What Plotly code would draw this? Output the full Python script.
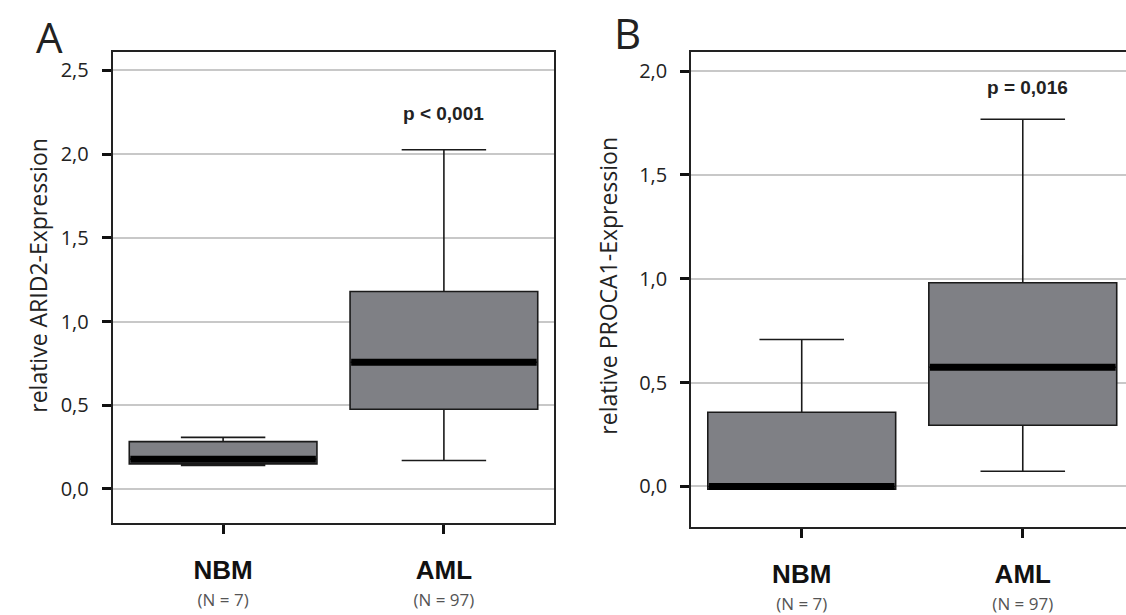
import plotly.graph_objects as go

# ---- data ----
categories = ["NBM", "AML"]
n_labels = ["(N = 7)", "(N = 97)"]

# Panel A: ARID2
arid2_lower = [0.140, 0.170]
arid2_q1 = [0.150, 0.476]
arid2_median = [0.178, 0.757]
arid2_q3 = [0.283, 1.179]
arid2_upper = [0.308, 2.026]
arid2_p = "p < 0,001"
arid2_title = "relative ARID2-Expression"

# Panel B: PROCA1
proca1_lower = [-0.013, 0.073]
proca1_q1 = [-0.013, 0.295]
proca1_median = [0.0, 0.574]
proca1_q3 = [0.357, 0.981]
proca1_upper = [0.708, 1.768]
proca1_p = "p = 0,016"
proca1_title = "relative PROCA1-Expression"

ytick_vals_a = [0.0, 0.5, 1.0, 1.5, 2.0, 2.5]
ytick_text_a = ["0,0", "0,5", "1,0", "1,5", "2,0", "2,5"]
ytick_vals_b = [0.0, 0.5, 1.0, 1.5, 2.0]
ytick_text_b = ["0,0", "0,5", "1,0", "1,5", "2,0"]

# ---- style ----
BOX_W = 0.85
FILL = "#7f8085"
EDGE = "#1a1a1a"
W, H = 1126, 615
REG = "Open Sans, DejaVu Sans, sans-serif"
BOLD = "Liberation Sans, Arial, sans-serif"

fig = go.Figure()

xpos = list(range(len(categories)))
xtext = [f"<span style='font-size:26px;font-weight:bold'>{c}</span>"
         f"<br><span style='font-size:17px;font-family:Open Sans;color:#555'>{n}</span>"
         for c, n in zip(categories, n_labels)]


def add_panel(xa, ya, lower, q1, med, q3, upper):
    fig.add_trace(go.Box(
        x=xpos, q1=q1, median=med, q3=q3, lowerfence=lower, upperfence=upper,
        width=BOX_W, whiskerwidth=0.45, fillcolor=FILL,
        line=dict(color=EDGE, width=1.6), boxpoints=False,
        xaxis=xa, yaxis=ya, showlegend=False, hoverinfo="skip"))
    for i, m in enumerate(med):
        fig.add_trace(go.Scatter(
            x=[xpos[i] - BOX_W / 2 + 0.005, xpos[i] + BOX_W / 2 - 0.005], y=[m, m],
            mode="lines", line=dict(color="black", width=7),
            xaxis=xa, yaxis=ya, showlegend=False, hoverinfo="skip"))


add_panel("x", "y", arid2_lower, arid2_q1, arid2_median, arid2_q3, arid2_upper)
add_panel("x2", "y2", proca1_lower, proca1_q1, proca1_median, proca1_q3, proca1_upper)

xcommon = dict(
    tickmode="array", tickvals=xpos, ticktext=xtext,
    showline=True, linecolor="#222", linewidth=2, mirror=True,
    ticks="outside", ticklen=9, tickwidth=3, tickcolor="#111",
    showgrid=False, zeroline=False,
    tickfont=dict(family=BOLD, size=21, color="#111"),
    ticklabelstandoff=19,
)
ycommon = dict(
    tickmode="array",
    showline=True, linecolor="#222", linewidth=2,
    ticks="outside", ticklen=9, tickwidth=2.5, tickcolor="#111",
    showgrid=True, gridcolor="#c8c8c8", gridwidth=1.6, zeroline=False,
    tickfont=dict(family=REG, size=20, color="#222"),
    ticklabelstandoff=9,
)

fig.update_layout(
    width=W, height=H,
    margin=dict(l=0, r=0, t=0, b=0),
    paper_bgcolor="white", plot_bgcolor="white",
    xaxis=dict(domain=[112.7 / W, 554.3 / W], range=[-0.5, 1.5], anchor="y", **xcommon),
    yaxis=dict(domain=[87.3 / H, 562.3 / H], range=[-0.2056, 2.608], anchor="x",
               tickvals=ytick_vals_a, ticktext=ytick_text_a, mirror=True,
               **ycommon),
    xaxis2=dict(domain=[691.2 / W, 1.0], range=[-0.5, 1.467], anchor="y2", **xcommon),
    yaxis2=dict(domain=[83.3 / H, 563 / H], range=[-0.197, 2.094], anchor="x2",
                tickvals=ytick_vals_b, ticktext=ytick_text_b, mirror=False,
                **ycommon),
    annotations=[
        dict(text=arid2_title, x=38 / W, y=1 - 278 / H, xref="paper", yref="paper",
             xanchor="center", yanchor="middle", textangle=-90,
             showarrow=False, font=dict(family=REG, size=23, color="#222")),
        dict(text=proca1_title, x=608 / W, y=1 - 288 / H, xref="paper", yref="paper",
             xanchor="center", yanchor="middle", textangle=-90,
             showarrow=False, font=dict(family=REG, size=23, color="#222")),
        dict(text="A", x=49 / W, y=1 - 37 / H, xref="paper", yref="paper",
             xanchor="center", yanchor="middle",
             showarrow=False, font=dict(family=REG, size=42, color="#222")),
        dict(text="B", x=627 / W, y=1 - 33 / H, xref="paper", yref="paper",
             xanchor="center", yanchor="middle",
             showarrow=False, font=dict(family=REG, size=42, color="#222")),
        dict(text=f"<b>{arid2_p}</b>", x=1, y=2.24, xref="x", yref="y",
             showarrow=False, font=dict(family=BOLD, size=19, color="#222")),
        dict(text=f"<b>{proca1_p}</b>", x=1.02, y=1.92, xref="x2", yref="y2",
             showarrow=False, font=dict(family=BOLD, size=19, color="#222")),
    ],
)

fig.write_html("out.html", config={"displayModeBar": False},
               post_script="document.body.style.margin='0';")
